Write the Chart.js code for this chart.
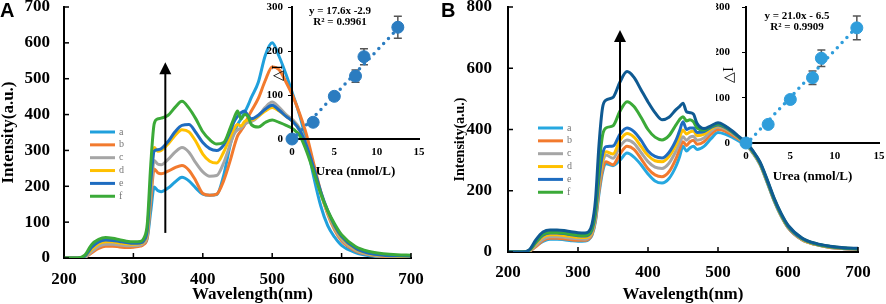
<!DOCTYPE html>
<html><head><meta charset="utf-8">
<script src="https://cdn.jsdelivr.net/npm/chart.js@4.4.1/dist/chart.umd.min.js"></script>
<style>
html,body{margin:0;padding:0;background:#fff;}
#wrap{position:relative;width:886px;height:304px;overflow:hidden;background:#fff;}
canvas{position:absolute;}
.pl{position:absolute;font:bold 20px "Liberation Sans",Arial,sans-serif;line-height:20px;color:#000;}
</style></head><body>
<div id="wrap">
<canvas id="mainA" width="440" height="304" style="left:0;top:0"></canvas>
<canvas id="mainB" width="446" height="304" style="left:440px;top:0"></canvas>
<canvas id="insA" width="178" height="185" style="left:262px;top:0"></canvas>
<canvas id="insB" width="170" height="190" style="left:716px;top:0"></canvas>
<div class="pl" style="left:0;top:0">A</div>
<div class="pl" style="left:441px;top:0">B</div>
</div>
<script>
// ---------- data ----------
const wavelengths = [200,210,220,230,240,250,260,270,280,290,300,310,315,320,325,330,335,340,350,360,370,380,390,400,410,420,430,440,445,450,455,460,465,470,480,490,500,510,520,530,540,550,560,570,580,590,600,620,640,660,680,700];

const seriesA_a = [0,0,0,3,20,32,38,37,34,32,32,35, 40,55,130,198,188,185, 195,212,225,215,195,178,175,177,230,320, 350,372,388,405,425,448, 490,565,600,562,512,455,395,318,225,145,90,58,35, 15,6,3,1,0];
const seriesA_b = [0,0,0,2,15,27,33,33,31,29,30,33, 38,58,160,248,238,235, 242,252,258,245,215,180,175,178,215,275, 310,340,355,370,392,410, 445,495,533,525,490,450,400,340,262,185,122,78,48, 20,9,4,2,1];
const seriesA_c = [0,0,0,2,18,32,38,38,36,34,34,36, 42,65,180,272,262,260, 275,295,308,295,265,240,228,230,265,320, 345,357,362,372,378,380, 395,420,435,420,400,385,360,310,245,180,125,82,52, 22,10,6,4,3];
const seriesA_d = [0,0,0,4,25,40,45,45,42,40,38,40, 46,72,200,308,298,300, 318,342,358,352,325,290,270,265,295,340, 360,372,368,380,385,385, 395,410,420,410,395,380,355,305,243,180,128,87,57, 25,12,7,5,4];
const seriesA_e = [0,0,0,5,30,45,50,49,46,43,41,42, 48,78,210,298,302,305, 325,352,370,372,350,322,305,300,315,355, 380,395,405,410,398,388, 398,415,426,412,395,380,355,310,250,185,132,90,60, 27,13,8,6,5];
const seriesA_f = [0,0,0,8,38,52,57,55,51,47,45,46, 55,95,260,375,388,390, 398,420,437,418,388,352,330,318,322,365, 390,410,388,400,395,372, 365,378,385,378,370,360,340,295,238,180,132,95,65, 32,18,12,9,8];

const seriesB_a = [0,0,0,3,20,35,42,42,40,37,35,36, 40,55,100,190,260,288, 282,300,323,310,285,255,232,225,240,280, 310,345,330,340,345,335, 345,370,390,385,375,362,350,322,285,228,168,118,80, 40,24,15,11,9];
const seriesB_b = [0,0,0,2,18,38,45,45,43,40,38,38, 42,58,105,200,270,295, 285,320,345,335,305,272,252,246,262,305, 335,360,348,360,365,352, 360,385,400,395,382,368,352,324,287,230,169,119,80, 40,24,15,11,9];
const seriesB_c = [0,0,0,3,22,42,50,50,48,45,43,42, 46,62,110,215,290,317, 306,345,366,355,325,295,277,273,290,330, 355,376,365,375,378,365, 372,395,408,402,388,371,354,325,288,231,170,120,81, 41,25,16,12,10];
const seriesB_d = [0,0,0,4,28,50,56,56,54,51,48,47, 50,66,118,228,300,327, 320,365,387,375,345,315,298,295,312,350, 375,398,385,392,395,380, 385,402,412,405,390,373,355,326,289,232,171,121,82, 42,25,16,12,10];
const seriesB_e = [0,0,0,5,32,55,62,62,60,56,53,52, 55,72,125,240,318,344, 346,385,405,393,365,330,312,307,325,365, 395,425,400,405,405,390, 393,407,415,407,392,374,356,327,290,233,172,122,83, 43,26,17,12,10];
const seriesB_f = [0,0,0,5,33,58,64,64,62,58,55,54, 58,78,140,280,380,405, 412,460,491,475,440,400,375,366,380,415, 432,442,428,432,425,405, 398,410,418,410,394,375,357,328,292,236,175,125,86, 45,27,18,13,11];
const seriesB_g = [0,0,0,6,40,65,72,72,70,66,63,62, 66,90,170,350,470,496, 505,555,589,570,530,490,455,432,440,465, 475,486,458,455,450,420, 403,412,422,412,396,377,358,330,294,238,177,127,88, 46,28,19,14,12];

const legendLabels = ['a','b','c','d','e','f'];
const xTicksMain = [200,300,400,500,600,700];

const ureaConc = [0, 2.5, 5, 7.5, 8.5, 12.5];
const deltaIA = [0, 38, 97, 143, 187, 254];
const errorA  = [0, 0, 0, 14, 18, 25];
const deltaIB = [0, 41, 96, 144, 187, 254];
const errorB  = [0, 0, 0, 15, 18, 26];
const fitX = [0, 12.5];
const fitA = [-2, 251];
const fitB = [-3, 256];
const equationA = ['y = 17.6x -2.9', 'R² = 0.9961'];
const equationB = ['y = 21.0x - 6.5', 'R² = 0.9909'];
const arrowA = [346, 70, 546];   // wavelength, from intensity, to intensity
const arrowB = [360, 189, 725];
const xTitle = 'Wavelength(nm)';
const yTitle = 'Intensity(a.u.)';

// ---------- style ----------
const SERIF = '"Liberation Serif","Times New Roman",serif';
const colorsA = ['#20A0DC','#F27A2E','#A5A5A5','#FFC000','#1E6CC0','#3BAA38'];
const colorsB = ['#26A8E0','#F27A2E','#A5A5A5','#FFC000','#1E6CC0','#3BAA38','#0F5A92'];

Chart.defaults.font.family = SERIF;
const toXY = (xs, ys) => xs.map((x, i) => ({x: x, y: ys[i]}));

// ---------- plugins ----------
const inwardTicks = {
  id: 'inwardTicks',
  afterDraw(chart, args, o) {
    if (!o || !o.len) return;
    const {ctx, chartArea} = chart;
    ctx.save(); ctx.strokeStyle = '#000'; ctx.lineWidth = 1.5;
    const sx = chart.scales.x, sy = chart.scales.y;
    sx.ticks.forEach(t => { const p = sx.getPixelForValue(t.value);
      ctx.beginPath(); ctx.moveTo(p, chartArea.bottom); ctx.lineTo(p, chartArea.bottom - o.len); ctx.stroke(); });
    if (o.y) sy.ticks.forEach(t => { const p = sy.getPixelForValue(t.value);
      ctx.beginPath(); ctx.moveTo(chartArea.left, p); ctx.lineTo(chartArea.left + o.len, p); ctx.stroke(); });
    ctx.restore();
  }
};
const sideLegend = {
  id: 'sideLegend',
  afterDraw(chart, args, o) {
    if (!o || !o.labels) return;
    const {ctx, chartArea} = chart;
    ctx.save();
    o.labels.forEach((lab, i) => {
      const y = chartArea.top + o.y0 + i * o.dy;
      ctx.strokeStyle = chart.data.datasets[i].borderColor; ctx.lineWidth = 3;
      ctx.beginPath(); ctx.moveTo(chartArea.left + o.x0, y); ctx.lineTo(chartArea.left + o.x0 + o.len, y); ctx.stroke();
      ctx.fillStyle = '#777'; ctx.font = '10px ' + SERIF; ctx.textBaseline = 'middle'; ctx.textAlign = 'left';
      ctx.fillText(lab, chartArea.left + o.x0 + o.len + 4, y);
    });
    ctx.restore();
  }
};
const upArrow = {
  id: 'upArrow',
  afterDraw(chart, args, o) {
    if (!o || !o.arrow) return;
    const {ctx} = chart; const sx = chart.scales.x, sy = chart.scales.y;
    const x = sx.getPixelForValue(o.arrow[0]);
    const yb = sy.getPixelForValue(o.arrow[1]);
    const yt = sy.getPixelForValue(o.arrow[2]);
    ctx.save(); ctx.strokeStyle = '#000'; ctx.fillStyle = '#000'; ctx.lineWidth = 2;
    ctx.beginPath(); ctx.moveTo(x, yb); ctx.lineTo(x, yt + 8); ctx.stroke();
    ctx.beginPath(); ctx.moveTo(x, yt); ctx.lineTo(x - 6, yt + 12); ctx.lineTo(x + 6, yt + 12); ctx.closePath(); ctx.fill();
    ctx.restore();
  }
};
// axis titles placed with an offset from the chart-area centre
const axisTitles = {
  id: 'axisTitles',
  afterDraw(chart, args, o) {
    if (!o) return;
    const {ctx, chartArea} = chart;
    ctx.save(); ctx.fillStyle = '#000'; ctx.textAlign = 'center'; ctx.textBaseline = 'middle';
    if (o.x) {
      ctx.font = 'bold ' + o.x.size + 'px ' + SERIF;
      ctx.fillText(o.x.text, (chartArea.left + chartArea.right) / 2 + o.x.dx, o.x.y);
    }
    if (o.y) {
      ctx.font = 'bold ' + o.y.size + 'px ' + SERIF;
      ctx.translate(o.y.x, (chartArea.top + chartArea.bottom) / 2 + o.y.dy);
      ctx.rotate(-Math.PI / 2);
      ctx.fillText(o.y.text, 0, 0);
    }
    ctx.restore();
  }
};
const errorBars = {
  id: 'errorBars',
  beforeDatasetsDraw(chart, args, o) {
    if (!o || !o.errs) return;
    const {ctx} = chart; const sx = chart.scales.x, sy = chart.scales.y;
    ctx.save(); ctx.strokeStyle = '#555'; ctx.lineWidth = 1.5;
    o.xs.forEach((xv, i) => {
      const e = o.errs[i]; if (!e) return;
      const x = sx.getPixelForValue(xv);
      const y1 = sy.getPixelForValue(o.ys[i] + e), y2 = sy.getPixelForValue(o.ys[i] - e);
      ctx.beginPath(); ctx.moveTo(x, y1); ctx.lineTo(x, y2);
      ctx.moveTo(x - 4, y1); ctx.lineTo(x + 4, y1); ctx.moveTo(x - 4, y2); ctx.lineTo(x + 4, y2); ctx.stroke();
    });
    ctx.restore();
  }
};
const equation = {
  id: 'equation',
  afterDraw(chart, args, o) {
    if (!o || !o.lines) return;
    const {ctx, chartArea} = chart;
    ctx.save(); ctx.fillStyle = '#000'; ctx.font = 'bold 11px ' + SERIF; ctx.textAlign = 'center'; ctx.textBaseline = 'middle';
    o.lines.forEach((t, i) => ctx.fillText(t, chartArea.left + o.cx, o.ys[i]));
    ctx.restore();
  }
};

// ---------- charts ----------
function mainChart(id, series, colors, cfg) {
  return new Chart(document.getElementById(id), {
    type: 'line',
    data: { datasets: series.map((s, i) => ({
      label: legendLabels[i] || 'g', data: toXY(wavelengths, s), borderColor: colors[i],
      borderWidth: 3, pointRadius: 0, cubicInterpolationMode: 'monotone', fill: false, order: series.length - i
    })) },
    options: {
      responsive: false, animation: false, devicePixelRatio: 1,
      layout: { padding: { top: 7, right: cfg.padRight, left: 0, bottom: 0 } },
      plugins: {
        legend: { display: false }, tooltip: { enabled: false },
        inwardTicks: { len: 5, y: true },
        sideLegend: { labels: legendLabels, x0: cfg.legX, y0: cfg.legY, dy: 12.85, len: 25 },
        upArrow: { arrow: cfg.arrow },
        axisTitles: cfg.titles
      },
      scales: {
        x: {
          type: 'linear', min: 200, max: 700,
          afterBuildTicks: s => { s.ticks = xTicksMain.map(v => ({ value: v })); },
          grid: { display: true, drawOnChartArea: false, drawTicks: false },
          border: { display: true, color: '#000', width: 2 },
          ticks: { font: { size: 17, weight: 'bold' }, color: '#000', padding: cfg.xPad, maxRotation: 0, autoSkip: false },
          title: { display: !cfg.titles.x, text: xTitle, color: '#000', font: { size: 17, weight: 'bold' }, padding: { top: 0, bottom: 0 } },
          afterFit: s => { s.height = cfg.xHeight; s.paddingLeft = 0; s.paddingRight = 0; }
        },
        y: {
          min: 0, max: cfg.yMax,
          grid: { display: true, drawOnChartArea: false, drawTicks: false },
          border: { display: true, color: '#000', width: 2 },
          ticks: { stepSize: cfg.yStep, font: { size: 17, weight: 'bold' }, color: '#000', padding: cfg.yPad },
          title: { display: !cfg.titles.y, text: yTitle, color: '#000', font: { size: 17, weight: 'bold' }, padding: { top: -2, bottom: 0 } },
          afterFit: s => { s.width = cfg.yWidth; s.paddingTop = 0; s.paddingBottom = 0; }
        }
      }
    },
    plugins: [inwardTicks, sideLegend, upArrow, axisTitles]
  });
}

function insetChart(id, ys, errs, fitY, color, eq, cfg) {
  return new Chart(document.getElementById(id), {
    type: 'scatter',
    data: { datasets: [
      { data: toXY(ureaConc, ys), pointRadius: 6, pointHoverRadius: 6, backgroundColor: color, borderColor: color, pointBackgroundColor: color, pointBorderColor: color, showLine: false, order: 0, clip: false },
      { type: 'line', data: toXY(fitX, fitY), borderColor: color, borderWidth: 3.5, borderDash: [0, 7], borderCapStyle: 'round', pointRadius: 0, showLine: true, fill: false, order: 1, clip: false }
    ] },
    options: {
      responsive: false, animation: false, devicePixelRatio: 1,
      layout: { padding: { top: 7, right: cfg.padRight, left: 0, bottom: 0 } },
      plugins: {
        legend: { display: false }, tooltip: { enabled: false },
        errorBars: { xs: ureaConc, ys: ys, errs: errs },
        equation: { lines: eq, cx: cfg.eqX, ys: cfg.eqY }
      },
      scales: {
        x: {
          type: 'linear', min: 0, max: 15,
          grid: { display: true, drawOnChartArea: false, drawTicks: false },
          border: { display: true, color: '#000', width: 2 },
          ticks: { stepSize: 5, font: { size: 11, weight: 'bold' }, color: '#000', padding: 7, maxRotation: 0 },
          title: { display: true, text: 'Urea (nmol/L)', color: '#000', font: { size: 13, weight: 'bold' }, padding: { top: 0, bottom: 6 } },
          afterFit: s => { s.height = cfg.xHeight; s.paddingLeft = 0; s.paddingRight = 0; }
        },
        y: {
          min: 0, max: 300,
          grid: { display: true, drawOnChartArea: false, drawTicks: true, tickLength: 4, color: '#000', tickColor: '#000' },
          border: { display: true, color: '#000', width: 2 },
          ticks: { stepSize: 100, font: { size: 11, weight: 'bold' }, color: '#000', padding: cfg.yPad },
          title: { display: true, text: '△I', color: '#000', font: { size: 14, weight: 'normal' }, padding: { top: cfg.yTitlePad, bottom: 0 } },
          afterFit: s => { s.width = 30; s.paddingTop = 0; s.paddingBottom = 0; }
        }
      }
    },
    plugins: [inwardTicks, errorBars, equation]
  });
}

mainChart('mainA', [seriesA_a, seriesA_b, seriesA_c, seriesA_d, seriesA_e, seriesA_f], colorsA,
  { padRight: 29, yWidth: 64, xHeight: 46, yMax: 700, yStep: 100, xPad: 11, yPad: 14, legX: 26, legY: 125, arrow: arrowA,
    titles: { x: { text: xTitle, size: 17, dx: 15, y: 295 } } });
mainChart('mainB', [seriesB_a, seriesB_b, seriesB_c, seriesB_d, seriesB_e, seriesB_f, seriesB_g], colorsB,
  { padRight: 28, yWidth: 68, xHeight: 52, yMax: 800, yStep: 200, xPad: 10, yPad: 16, legX: 30, legY: 121, arrow: arrowB,
    titles: { x: { text: xTitle, size: 17, dx: 0, y: 295 }, y: { text: yTitle, size: 14, x: 20, dy: 10 } } });

insetChart('insA', deltaIA, errorA, fitA, '#2B7CC0', equationA,
  { padRight: 21, xHeight: 46, yPad: 5, yTitlePad: 8, eqX: 48, eqY: [11, 22.5] });
insetChart('insB', deltaIB, errorB, fitB, '#2F9DDB', equationB,
  { padRight: 5, xHeight: 47, yPad: 12, yTitlePad: 5, eqX: 51, eqY: [16, 27.5] });
</script>
</body></html>
